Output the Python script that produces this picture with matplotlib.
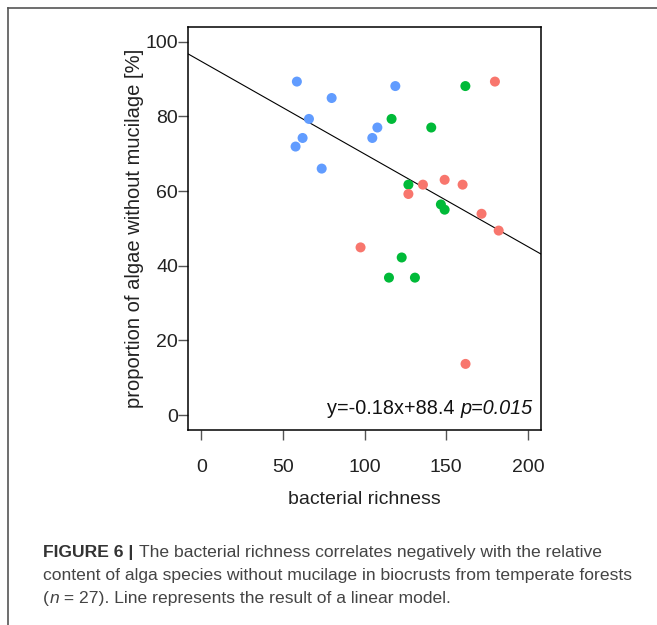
import matplotlib
matplotlib.use("Agg")
import matplotlib.pyplot as plt
from matplotlib.lines import Line2D

plt.rcParams['font.family'] = ['Liberation Sans', 'DejaVu Sans']

# bacterial richness (x) and proportion of algae without mucilage (y), per group
blue_x = [58.5, 118.8, 79.8, 65.9, 107.8, 104.7, 62.0, 57.7, 73.7]
blue_y = [89.3, 88.1, 84.9, 79.3, 77.0, 74.2, 74.2, 71.9, 66.0]
green_x = [161.7, 116.5, 140.8, 126.8, 146.7, 149.0, 122.7, 114.9, 130.8]
green_y = [88.1, 79.3, 77.0, 61.7, 56.4, 55.0, 42.2, 36.8, 36.8]
red_x = [179.8, 135.7, 149.0, 160.0, 126.8, 171.6, 182.1, 97.5, 161.8]
red_y = [89.3, 61.7, 63.0, 61.7, 59.2, 53.9, 49.4, 44.9, 13.7]

# fitted line as drawn
line_intercept = 94.7
line_slope = -0.248

x_ticks = [0, 50, 100, 150, 200]
y_ticks = [0, 20, 40, 60, 80, 100]

colors = {'red': '#F8766D', 'green': '#00BA38', 'blue': '#619CFF'}

fig = plt.figure(figsize=(6.57, 6.25), dpi=100)
ax = fig.add_axes([0.2866, 0.312, 0.5368, 0.6453])

for xs, ys, c in [(blue_x, blue_y, colors['blue']),
                  (green_x, green_y, colors['green']),
                  (red_x, red_y, colors['red'])]:
    ax.scatter(xs, ys, s=52, color=c, edgecolors='none', zorder=3)

ax.axline((0, line_intercept), slope=line_slope, color='black', lw=0.8, zorder=2)

ax.set_xlim(-8, 208)
ax.set_ylim(-4, 104)
ax.set_xticks(x_ticks)
ax.set_yticks(y_ticks)
for s in ax.spines.values():
    s.set_linewidth(1.1)
ax.tick_params(axis='both', direction='out', length=7, width=1.0, color='#555555',
               labelsize=14, labelcolor='#222222')
ax.tick_params(axis='x', pad=14)
ax.tick_params(axis='y', pad=0.5)
ax.set_xlabel('bacterial richness', fontsize=14, color='#222222', labelpad=11)
ax.set_ylabel('proportion of algae without mucilage [%]', fontsize=14.5, color='#222222',
              labelpad=1)

renderer = fig.canvas.get_renderer()
W, H = fig.bbox.width, fig.bbox.height


def chain(prev, s, **kw):
    # place text s right after prev, on the same baseline
    bb = prev.get_window_extent(renderer)
    x0, y0 = prev.get_position()
    return fig.text(bb.x1 / W, y0, s, va='baseline', **kw)


# equation annotation, with italic p-value
eq1 = ax.text(0.0, 0.04, 'y=-0.18x+88.4 ', transform=ax.transAxes, va='baseline',
              fontsize=14.3, color='#111111')
eq2 = ax.text(0.0, 0.04, 'p=0.015', transform=ax.transAxes, va='baseline',
              fontsize=14.3, style='italic', color='#111111')
w_total = (eq1.get_window_extent(renderer).width + eq2.get_window_extent(renderer).width)
ax_bb = ax.get_window_extent(renderer)
right = ax_bb.x0 + 0.975 * ax_bb.width
eq1.set_x((right - w_total - ax_bb.x0) / ax_bb.width)
eq2.set_x((right - eq2.get_window_extent(renderer).width - ax_bb.x0) / ax_bb.width)

# page frame
fig.add_artist(Line2D([0.0122, 1.0], [0.9872, 0.9872], transform=fig.transFigure,
                      color='#555555', lw=1.2))
fig.add_artist(Line2D([0.0122, 0.0122], [0.0, 0.9872], transform=fig.transFigure,
                      color='#555555', lw=1.2))

# caption
cap_color = '#444444'
cap_size = 12.6
cap_x = 0.066
t1 = fig.text(cap_x, 1 - 557 / 625, 'FIGURE 6 | ', fontsize=cap_size, weight='bold',
              color='#333333', va='baseline')
chain(t1, 'The bacterial richness correlates negatively with the relative',
      fontsize=cap_size, color=cap_color)
fig.text(cap_x, 1 - 580 / 625,
         'content of alga species without mucilage in biocrusts from temperate forests',
         fontsize=cap_size, color=cap_color, va='baseline')
t3a = fig.text(cap_x, 1 - 603 / 625, '(', fontsize=cap_size, color=cap_color, va='baseline')
t3b = chain(t3a, 'n', fontsize=cap_size, color=cap_color, style='italic')
chain(t3b, ' = 27). Line represents the result of a linear model.',
      fontsize=cap_size, color=cap_color)

fig.savefig('out.png', dpi=100)
